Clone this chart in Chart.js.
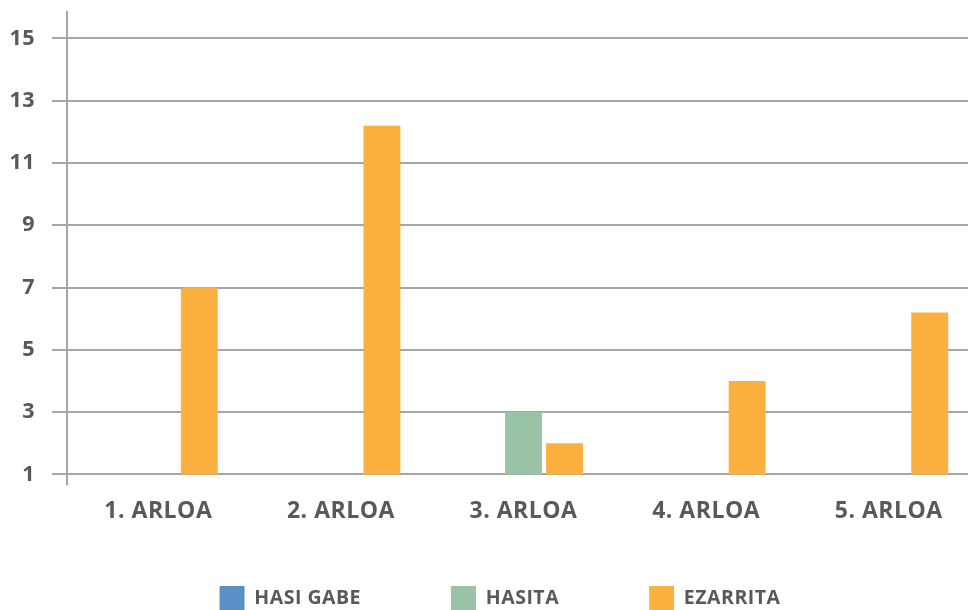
<!DOCTYPE html>
<html>
<head>
<meta charset="utf-8">
<script src="https://cdn.jsdelivr.net/npm/chart.js@4"></script>
<style>
  html, body { margin: 0; padding: 0; overflow: hidden; background: #fff; }
  #wrap { width: 980px; height: 662px; }
</style>
</head>
<body>
<div id="wrap"><canvas id="arloakChart"></canvas></div>
<script>
const categories = ['1. ARLOA', '2. ARLOA', '3. ARLOA', '4. ARLOA', '5. ARLOA'];
const hasiGabe = [0, 0, 0, 0, 0];
const hasita = [0, 0, 3, 0, 0];
const ezarrita = [7, 12.2, 2, 4, 6.2];
const yTicks = [1, 3, 5, 7, 9, 11, 13, 15];

const gridGrey = '#a6a6a6';
const textGrey = '#595959';

// slightly tracked-out labels; the context is reset on resize, so set it each pass
const textSpacing = {
    id: 'textSpacing',
    beforeUpdate(chart) { chart.ctx.letterSpacing = '0.5px'; },
    beforeDraw(chart) { chart.ctx.letterSpacing = '0.5px'; }
};

// pull the legend row up closer to the axis labels and nudge it right
const legendNudge = {
    id: 'legendNudge',
    afterLayout(chart) {
        const lg = chart.legend;
        lg.top -= 41;
        lg.bottom -= 41;
        lg.left += 10;
        lg.right += 10;
    }
};

const ctx = document.getElementById('arloakChart').getContext('2d');
new Chart(ctx, {
    type: 'bar',
    data: {
        labels: categories,
        datasets: [
            { label: 'HASI GABE', data: hasiGabe, backgroundColor: '#5b90c6' },
            { label: 'HASITA', data: hasita, backgroundColor: '#98c3a6' },
            { label: 'EZARRITA', data: ezarrita, backgroundColor: '#fcb03f' }
        ]
    },
    plugins: [textSpacing, legendNudge],
    options: {
        responsive: true,
        maintainAspectRatio: false,
        animation: false,
        categoryPercentage: 0.674,
        barPercentage: 0.9,
        layout: {
            padding: { top: 12, left: 0, right: 0, bottom: 0 }
        },
        plugins: {
            tooltip: { enabled: false },
            legend: {
                position: 'bottom',
                labels: {
                    boxWidth: 25,
                    boxHeight: 25,
                    padding: 90,
                    color: textGrey,
                    font: { family: 'Open Sans', size: 19.5, weight: 'bold' }
                }
            }
        },
        scales: {
            x: {
                z: 1,
                border: { display: true, color: gridGrey, width: 2 },
                grid: {
                    drawOnChartArea: false,
                    tickLength: 11,
                    lineWidth: 2,
                    // only the left-most tick mark below the axis
                    color: function(context) {
                        return context.index === 0 ? gridGrey : 'rgba(0,0,0,0)';
                    }
                },
                ticks: {
                    padding: 12,
                    color: textGrey,
                    font: { family: 'Open Sans', size: 23, weight: 'bold' }
                }
            },
            y: {
                min: 1,
                max: 15.85,
                border: { display: true, color: gridGrey, width: 2 },
                grid: {
                    color: gridGrey,
                    lineWidth: 2,
                    tickLength: 15
                },
                ticks: {
                    padding: 17,
                    color: textGrey,
                    font: { family: 'Open Sans', size: 21.5, weight: 'bold' }
                },
                afterBuildTicks: function(scale) {
                    scale.ticks = yTicks.map(v => ({ value: v }));
                },
                afterFit: function(scale) {
                    scale.width = 67;
                    scale.paddingTop = 0;
                    scale.paddingBottom = 0;
                }
            }
        }
    }
});
</script>
</body>
</html>
